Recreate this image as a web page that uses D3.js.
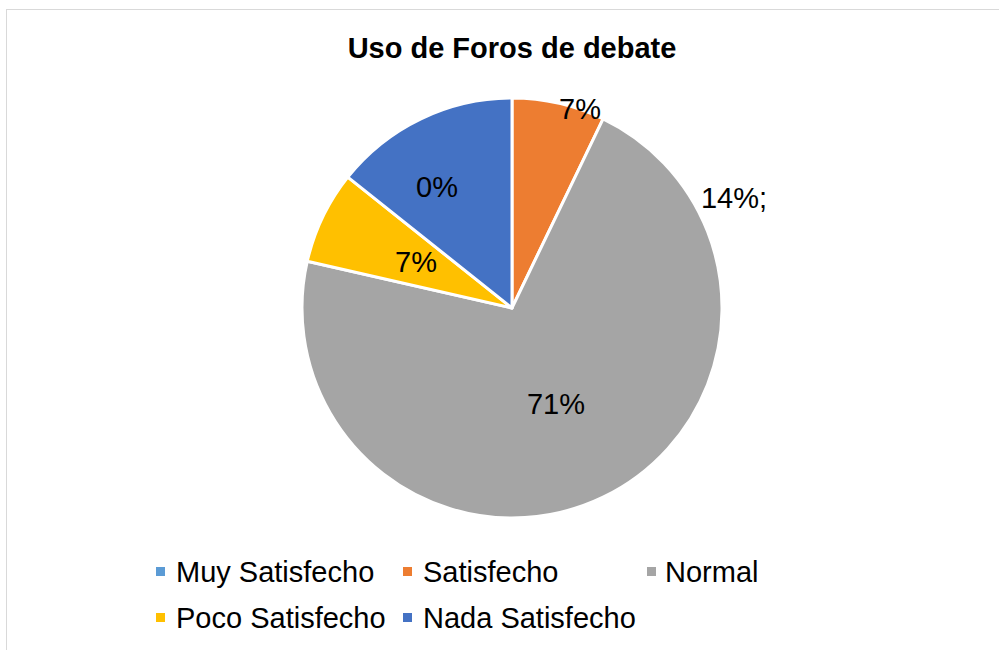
<!DOCTYPE html>
<html lang="es">
<head>
  <meta charset="UTF-8">
  <script src="https://d3js.org/d3.v7.min.js" charset="utf-8"></script>
  <title>Uso de Foros de debate</title>
  <style>
    body { margin: 0; background: #fff; }
    text { font-family: "Liberation Sans", Arial, sans-serif; }
  </style>
</head>
<body>
  <script type="text/javascript">
    // data
    var categories = ["Muy Satisfecho", "Satisfecho", "Normal", "Poco Satisfecho", "Nada Satisfecho"];
    var counts = [0, 1, 10, 1, 2];
    var colors = ["#5B9BD5", "#ED7D31", "#A5A5A5", "#FFC000", "#4472C4"];
    // data labels as they appear in the chart (not matched to slices)
    var labelTexts = ["7%", "14%;", "0%", "7%", "71%"];

    var outer_w = 999, outer_h = 650;
    var cx = 512, cy = 308, radius = 210;

    // label positions, offset from pie centre
    var labelPos = [[68, -189], [222, -100], [-75, -111], [-96, -36], [44, 106]];

    var svg = d3.select("body")
      .append("svg")
      .attr("width", outer_w)
      .attr("height", outer_h);

    // chart frame
    svg.append("rect")
      .attr("x", 6.5)
      .attr("y", 9.5)
      .attr("width", 1000)
      .attr("height", 700)
      .attr("fill", "#fff")
      .attr("stroke", "#d9d9d9")
      .attr("stroke-width", 1);

    svg.append("text")
      .attr("x", cx)
      .attr("y", 58)
      .attr("text-anchor", "middle")
      .attr("font-size", 29)
      .attr("font-weight", "bold")
      .text("Uso de Foros de debate");

    var pie = d3.pie().sort(null).value(function (d) { return d; });
    var arc = d3.arc().innerRadius(0).outerRadius(radius);

    var g = svg.append("g")
      .attr("transform", "translate(" + cx + "," + cy + ")");

    g.selectAll("path")
      .data(pie(counts))
      .enter()
      .append("path")
      .attr("d", arc)
      .attr("fill", function (d, i) { return colors[i]; })
      .attr("stroke", "#fff")
      .attr("stroke-width", 3)
      .attr("stroke-linejoin", "round");

    g.selectAll("text.lbl")
      .data(labelTexts)
      .enter()
      .append("text")
      .attr("class", "lbl")
      .attr("x", function (d, i) { return labelPos[i][0]; })
      .attr("y", function (d, i) { return labelPos[i][1]; })
      .attr("text-anchor", "middle")
      .attr("font-size", 29)
      .attr("fill", "#000")
      .text(function (d) { return d; });

    // legend
    var colX = [156, 403, 647];
    var rowY = [582, 628];
    var legend = svg.selectAll("g.legend")
      .data(categories)
      .enter()
      .append("g")
      .attr("class", "legend")
      .attr("transform", function (d, i) {
        return "translate(" + colX[i % 3] + "," + rowY[Math.floor(i / 3)] + ")";
      });

    legend.append("rect")
      .attr("x", 0)
      .attr("y", -15)
      .attr("width", 9)
      .attr("height", 9)
      .attr("fill", function (d, i) { return colors[i]; });

    legend.append("text")
      .attr("x", function (d, i) { return i % 3 == 2 ? 18 : 20; })
      .attr("y", 0)
      .attr("font-size", 29)
      .text(function (d) { return d; });
  </script>
</body>
</html>
